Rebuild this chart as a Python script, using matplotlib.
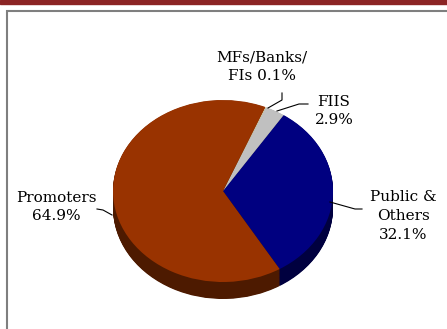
import numpy as np
import matplotlib.pyplot as plt
from matplotlib.patches import Rectangle

# shareholding pattern
labels = ["Public &\nOthers\n32.1%", "FIIS\n2.9%", "MFs/Banks/\nFIs 0.1%", "Promoters\n64.9%"]
shares = [32.1, 2.9, 0.1, 64.9]
top_colors = ["#000080", "#c0c0c0", "#ffffcc", "#993300"]
side_colors = ["#00003f", "#606060", "#808066", "#4d1a00"]

W, H = 447, 329
CX, CY, RX, RY = 223, 191, 110, 91
DEPTH = 17 / RY


def px(x, y):
    # pixel position in the picture -> data coords of the pie axes
    return (x - CX) / RX, (CY - y) / RY


fig = plt.figure(figsize=(W / 100, H / 100), dpi=100)
ax = fig.add_axes([0, 0, 1, 1])

# extruded side: stack of darker pies shifted down
for d in np.linspace(DEPTH, 0.005, 30):
    ax.pie(shares, colors=side_colors, startangle=-59, counterclock=True,
           center=(0, -d), wedgeprops=dict(linewidth=0))
ax.pie(shares, colors=top_colors, startangle=-59, counterclock=True,
       wedgeprops=dict(linewidth=0))

ax.set_aspect("auto")
ax.set_xlim(-CX / RX, (W - CX) / RX)
ax.set_ylim((CY - H) / RY, CY / RY)
ax.axis("off")

font = dict(family="DejaVu Serif", fontsize=11, ha="center", va="center",
            linespacing=1.45)

ax.text(*px(403, 216), labels[0], **font)
ax.text(*px(334, 111), labels[1], **font)
ax.text(*px(262, 67), labels[2], **font)
ax.text(*px(56, 207), labels[3], **font)

lk = dict(color="black", lw=0.8)
for pts in [[(362, 209), (355, 209), (330, 202)],
            [(308, 104), (299, 104), (277, 111)],
            [(282, 93), (282, 100), (268, 108)],
            [(97, 209), (103, 210), (112, 215)]]:
    xs, ys = zip(*[px(*p) for p in pts])
    ax.plot(xs, ys, **lk)

# frame box (open to the right and bottom) and top band
fig.patches.append(Rectangle((7 / W, -0.5), 2, 1 - 11 / H + 0.5, fill=False,
                             edgecolor="#7f7f7f", lw=1.5, transform=fig.transFigure))
fig.patches.append(Rectangle((0, 1 - 4 / H), 1, 4 / H, color="#8b2424",
                             transform=fig.transFigure))

fig.savefig("out.png", dpi=100)
